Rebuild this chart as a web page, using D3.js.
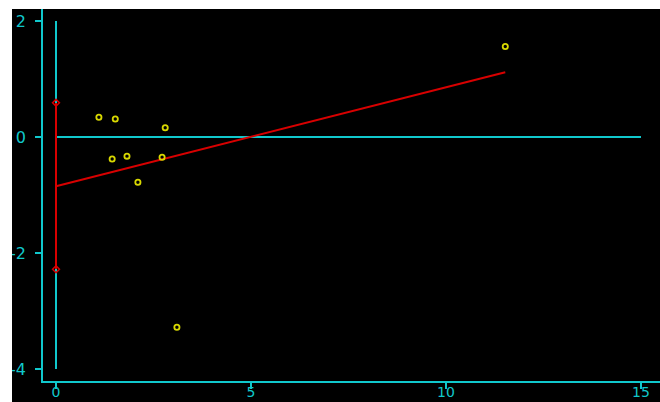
<!DOCTYPE html>
<html>
<head>
<meta charset="utf-8">
<script src="https://cdn.jsdelivr.net/npm/d3@7"></script>
<style>
  html, body { margin: 0; padding: 0; background: #ffffff; }
  svg { display: block; }
  text { font-family: "DejaVu Sans", sans-serif; }
  .crisp { shape-rendering: crispEdges; }
</style>
</head>
<body>
<svg id="chart" width="660" height="402"></svg>
<script>
// Study precision (x) and standardized effect (y)
const precision = [1.10, 1.52, 2.80, 1.44, 1.82, 2.72, 2.10, 3.10, 11.52];
const stdEffect = [0.34, 0.31, 0.16, -0.38, -0.33, -0.35, -0.78, -3.28, 1.56];

// Regression line: intercept, slope, and intercept confidence bounds
const intercept = [-0.85];
const slope = [0.1706];
const interceptCI = [-2.28, 0.59];

const xTicks = [0, 5, 10, 15];
const yTicks = [-4, -2, 0, 2];

const CYAN = "#10c8cc";
const RED = "#d80000";
const YELLOW = "#d8d800";

const svg = d3.select("#chart");

// dark panel
svg.append("rect").attr("x", 12).attr("y", 9).attr("width", 648).attr("height", 393).attr("fill", "#000");

const x = d3.scaleLinear().domain([0, 15]).range([56, 641]);
const y = d3.scaleLinear().domain([-4, 2]).range([369, 21]);

const axisX = 42, axisY = 382;

// axis frame lines
svg.append("line").attr("class", "crisp").attr("x1", axisX).attr("x2", axisX).attr("y1", 9).attr("y2", axisY)
  .attr("stroke", CYAN).attr("stroke-width", 2);
svg.append("line").attr("class", "crisp").attr("x1", axisX - 1).attr("x2", 660).attr("y1", axisY).attr("y2", axisY)
  .attr("stroke", CYAN).attr("stroke-width", 2);

// y ticks and labels
svg.selectAll(".ytick").data(yTicks).enter().append("line").attr("class", "crisp")
  .attr("x1", axisX - 7).attr("x2", axisX).attr("y1", d => y(d)).attr("y2", d => y(d))
  .attr("stroke", CYAN).attr("stroke-width", 2);
svg.selectAll(".ylab").data(yTicks).enter().append("text")
  .attr("x", 26).attr("y", d => y(d)).attr("dy", "0.36em")
  .attr("text-anchor", "end").attr("font-size", 16).attr("fill", CYAN)
  .text(d => d);

// x ticks and labels
svg.selectAll(".xtick").data(xTicks).enter().append("line").attr("class", "crisp")
  .attr("x1", d => x(d)).attr("x2", d => x(d)).attr("y1", axisY).attr("y2", axisY + 7)
  .attr("stroke", CYAN).attr("stroke-width", 2);
svg.selectAll(".xlab").data(xTicks).enter().append("text")
  .attr("x", d => x(d)).attr("y", 397)
  .attr("text-anchor", "middle").attr("font-size", 14).attr("fill", CYAN)
  .text(d => d);

// reference lines: x = 0 and y = 0
svg.append("line").attr("class", "crisp").attr("x1", x(0)).attr("x2", x(0)).attr("y1", y(2)).attr("y2", y(-4))
  .attr("stroke", CYAN).attr("stroke-width", 2);
svg.append("line").attr("class", "crisp").attr("x1", x(0)).attr("x2", x(15)).attr("y1", y(0)).attr("y2", y(0))
  .attr("stroke", CYAN).attr("stroke-width", 2);

// regression line from x = 0 to the largest precision
const xMax = d3.max(precision);
svg.append("line")
  .attr("x1", x(0)).attr("y1", y(intercept[0]))
  .attr("x2", x(xMax)).attr("y2", y(intercept[0] + slope[0] * xMax))
  .attr("stroke", RED).attr("stroke-width", 2);

// intercept confidence interval
svg.append("line").attr("class", "crisp").attr("x1", x(0)).attr("x2", x(0))
  .attr("y1", y(interceptCI[0])).attr("y2", y(interceptCI[1]))
  .attr("stroke", RED).attr("stroke-width", 2);
svg.selectAll(".ciend").data(interceptCI).enter().append("path")
  .attr("d", d3.symbol(d3.symbolDiamond2, 30))
  .attr("transform", d => `translate(${x(0)},${y(d)})`)
  .attr("fill", "none").attr("stroke", RED).attr("stroke-width", 1.5);

// study points
svg.selectAll(".pt").data(precision).enter().append("circle")
  .attr("cx", d => x(d)).attr("cy", (d, i) => y(stdEffect[i]))
  .attr("r", 2.6).attr("fill", "none").attr("stroke", YELLOW).attr("stroke-width", 1.8);

// white margins on top and left
svg.append("rect").attr("x", 0).attr("y", 0).attr("width", 660).attr("height", 9).attr("fill", "#fff");
svg.append("rect").attr("x", 0).attr("y", 0).attr("width", 12).attr("height", 402).attr("fill", "#fff");
</script>
</body>
</html>
